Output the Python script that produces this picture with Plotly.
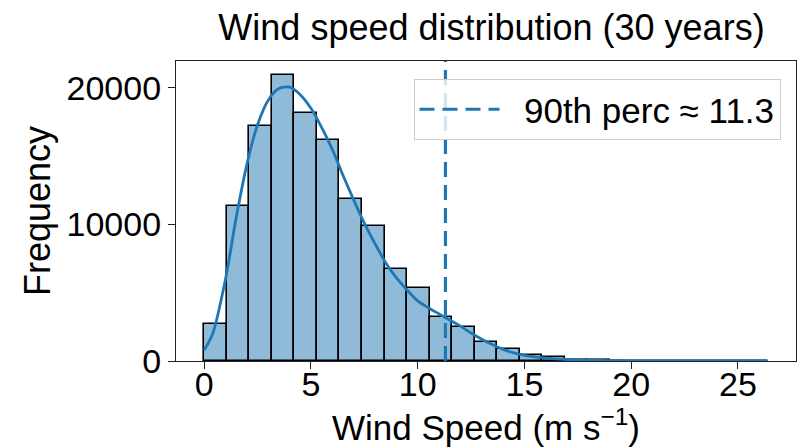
import plotly.graph_objects as go

# ---- data ----
bin_start = 0.0
bin_end = 26.4
n_bins = 25
counts = [2720, 11350, 17240, 20920, 18170, 16210, 11830, 9900, 6710, 5310,
          3256, 2490, 1370, 870, 420, 270, 110, 55, 25, 12, 6, 3, 2, 1, 1]

kde_x = [0, 0.4, 1.0, 1.5, 2.0, 2.5, 3.0, 3.5, 4.0, 4.5, 5.0, 5.5, 6.0, 6.5,
         7.0, 7.5, 8.0, 8.5, 9.0, 9.5, 10.0, 10.5, 11.0, 11.5, 12.0, 12.5,
         13.0, 13.5, 14.0, 14.5, 15.0, 15.5, 16.0, 17.0, 18.0, 19.0, 20.0,
         22.0, 24.0, 26.4]
kde_y = [800, 2000, 6000, 10500, 14400, 17300, 19100, 19950, 20050, 19500,
         18500, 17100, 15500, 13600, 11800, 10100, 8600, 7200, 6100, 5200,
         4400, 3900, 3450, 3000, 2550, 2050, 1600, 1200, 850, 600, 420, 300,
         210, 110, 55, 28, 14, 5, 2, 0]

p90 = 11.3
legend_label = "\u00a0\u00a090th perc \u2248 11.3"

x_ticks = [0, 5, 10, 15, 20, 25]
y_ticks = [0, 10000, 20000]

title_text = "Wind speed distribution (30 years)"
x_title = "Wind Speed (m s<sup>\u22121</sup>)"
y_title = "Frequency"

# ---- derived ----
bw = (bin_end - bin_start) / n_bins
centers = [bin_start + bw * (i + 0.5) for i in range(n_bins)]
span = bin_end - bin_start
x_range = [bin_start - 0.05 * span, bin_end + 0.05 * span]
y_range = [0, max(counts) * 1.05]

BLUE = "#1f77b4"
FONT = "Liberation Sans, Arial, sans-serif"

# page body has an 8px margin: size the figure to fit the 807x448 window
W, H = 799, 440
OFF = 8

fig = go.Figure()
fig.add_trace(go.Bar(
    x=centers, y=counts, width=bw,
    marker=dict(color="rgba(31,119,180,0.5)",
                line=dict(color="black", width=1.6)),
    showlegend=False, hoverinfo="skip",
))
fig.add_trace(go.Scatter(
    x=kde_x, y=kde_y, mode="lines",
    line=dict(color=BLUE, width=2.8, shape="spline", smoothing=0.8),
    showlegend=False, hoverinfo="skip",
))
fig.add_shape(
    type="line", x0=p90, x1=p90, y0=0, y1=1, xref="x", yref="paper",
    line=dict(color=BLUE, width=3.2, dash="15px,8px"),
    showlegend=True, name=legend_label,
)

axis_common = dict(
    showgrid=False, zeroline=False, showline=True, linecolor="#222",
    linewidth=1.2, mirror=True, ticks="outside", ticklen=7, tickwidth=1.2,
    tickcolor="#222", automargin=False,
    tickfont=dict(size=34, color="black", family=FONT),
)

fig.update_layout(
    width=W, height=H,
    margin=dict(l=176 - OFF, r=11, t=61 - OFF, b=448 - 353 - OFF),
    paper_bgcolor="white", plot_bgcolor="white",
    font=dict(family=FONT, color="black", size=34),
    title=dict(text=title_text, x=((218 + 765) / 2 - OFF) / W, xanchor="center",
               y=1 - (27 - OFF) / H, yanchor="middle", yref="container",
               font=dict(size=36, family=FONT, color="black")),
    xaxis=dict(range=x_range, tickvals=x_ticks, ticklabelstandoff=-14,
               title=dict(text=x_title, standoff=2,
                          font=dict(size=35, family=FONT, color="black")),
               **axis_common),
    yaxis=dict(range=y_range, tickvals=y_ticks, tickformat="d",
               title=dict(text=y_title, standoff=4,
                          font=dict(size=36, family=FONT, color="black")),
               **axis_common),
    legend=dict(x=0.975, y=0.94, xanchor="right", yanchor="top",
                bgcolor="rgba(255,255,255,0.8)", bordercolor="#cccccc",
                borderwidth=1, font=dict(size=35, family=FONT, color="black"),
                itemwidth=80),
    bargap=0,
)

fig.write_html("out.html")
